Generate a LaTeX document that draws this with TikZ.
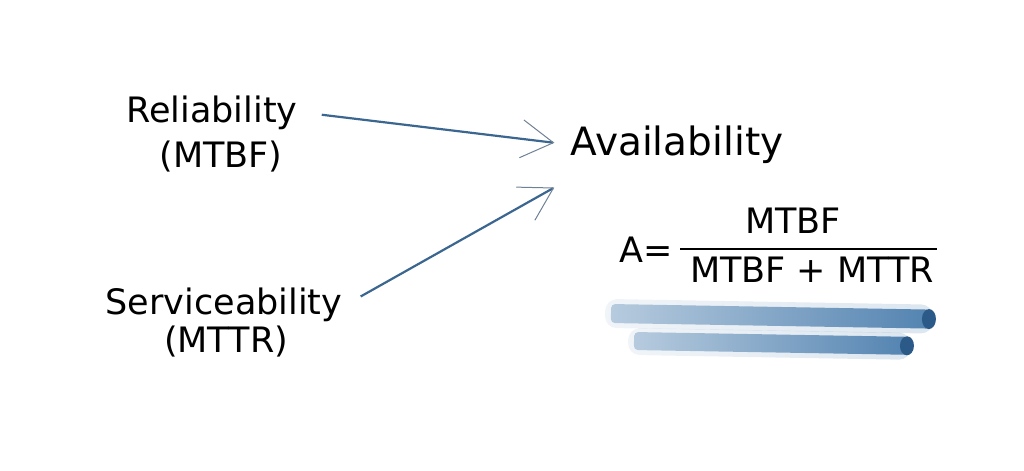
\documentclass[tikz,border=0pt]{standalone}
\usepackage{fontspec}
\setmainfont{DejaVu Sans}
\usetikzlibrary{arrows.meta, positioning, calc}
\definecolor{availblue}{HTML}{3A6690}
\definecolor{tipgrey}{HTML}{6F8195}
\definecolor{brushblue}{HTML}{4A7DAD}
\definecolor{brushdark}{HTML}{2C5A88}

\begin{document}
\begin{tikzpicture}[
    x=0.5pt, y=-0.5pt,
    label/.style={font=\fontsize{17.5}{21}\selectfont, anchor=base, inner sep=2pt},
    flow/.style={draw=availblue, line width=1.1pt,
        -{Straight Barb[length=16pt, width=19pt, line width=0.5pt, color=tipgrey]}},
    formula/.style={font=\fontsize{17.5}{21}\selectfont, anchor=base, inner sep=1pt},
    brush/.style={left color=brushblue!40, right color=brushblue!95},
]
    \useasboundingbox (0,0) rectangle (1024,471);

    % Inputs
    \node[label] (rel) at (212,122) {Reliability};
    \node[label] (relsub) at (221,167) {(MTBF)};
    \node[label] (serv) at (224,314) {Serviceability};
    \node[label] (servsub) at (226,352) {(MTTR)};

    % Output
    \node[label, font=\fontsize{19.5}{24}\selectfont] (avail) at (677,155) {Availability};

    % Arrows
    \coordinate (availin) at ($(avail.south west)+(-12,20)$);
    \draw[flow, shorten <=10pt, shorten >=6pt] (rel.east) -- (avail.west);
    \draw[flow, shorten <=8pt] (serv.east) -- (availin);

    % Formula
    \node[formula] (eq) at (646,262) {A=};
    \node[formula] (num) at (793,233) {MTBF};
    \node[formula] (den) at (812,282) {MTBF + MTTR};
    \draw[line width=0.8pt] (680,249) -- (937,249);

    % Brush strokes
    \begin{scope}[rotate around={-1:(610,313)}]
        \shade[brush, opacity=0.2, rounded corners=6pt] (605,299) rectangle (933,328);
        \shade[brush, rounded corners=2pt] (611,304) rectangle (930,323);
        \fill[brushdark] (929,313.5) ellipse [x radius=7, y radius=10];
    \end{scope}
    \begin{scope}[rotate around={-1:(633,341)}]
        \shade[brush, opacity=0.2, rounded corners=6pt] (628,328) rectangle (911,355);
        \shade[brush, rounded corners=2pt] (634,332) rectangle (908,350);
        \fill[brushdark] (907,341) ellipse [x radius=7, y radius=9.5];
    \end{scope}
\end{tikzpicture}
\end{document}
